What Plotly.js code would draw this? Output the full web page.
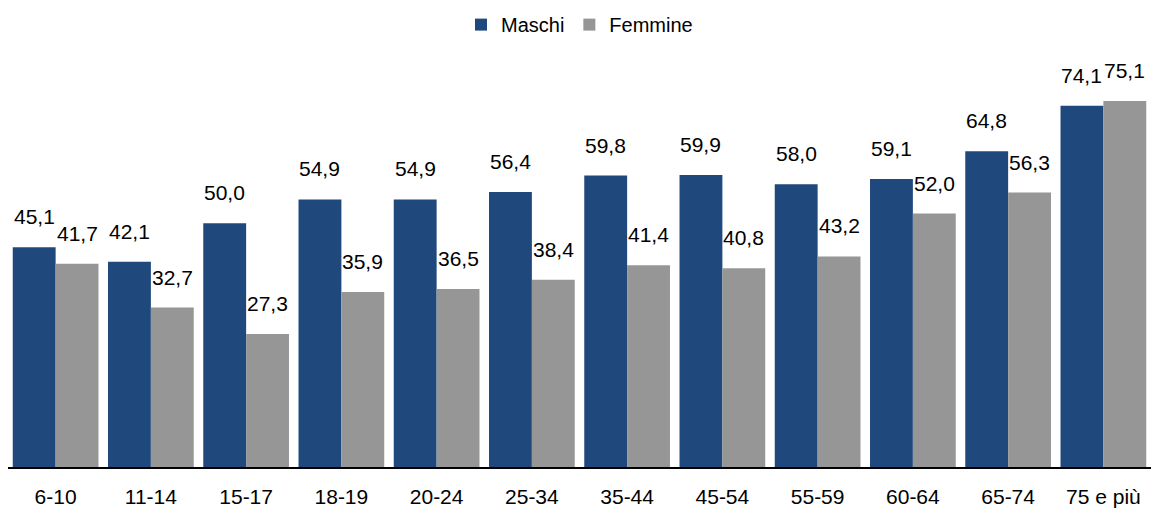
<!DOCTYPE html>
<html><head><meta charset="utf-8">
<script src="https://cdn.plot.ly/plotly-3.0.1.min.js"></script>
<style>body{margin:0;background:#fff}#chart{width:1154px;height:511px}</style>
</head><body><div id="chart"></div>
<script>
const categories = ["6-10","11-14","15-17","18-19","20-24","25-34","35-44","45-54","55-59","60-64","65-74","75 e più"];
const maschi = [45.1,42.1,50.0,54.9,54.9,56.4,59.8,59.9,58.0,59.1,64.8,74.1];
const femmine = [41.7,32.7,27.3,35.9,36.5,38.4,41.4,40.8,43.2,52.0,56.3,75.1];
const fmt = v => v.toFixed(1).replace('.', ',');
const fam = '"Liberation Sans", Arial, sans-serif';
const font = {family: fam, size: 21, color: '#000'};
const traces = [
  {type:'bar', name:'Maschi', x:categories, y:maschi, marker:{color:'#1F497D'}, hoverinfo:'none'},
  {type:'bar', name:'Femmine', x:categories, y:femmine, marker:{color:'#969696'}, hoverinfo:'none'}
];
const annotations = [];
[[maschi,-21.5],[femmine,21.5]].forEach(([vals, dx]) => {
  vals.forEach((v, i) => annotations.push({
    x: categories[i], y: v, xref:'x', yref:'y', text: fmt(v), showarrow:false,
    xshift: dx, yshift: 17, yanchor:'bottom', xanchor:'center', font: font
  }));
});
const layout = {
  width:1154, height:511,
  margin:{l:8, r:3, t:60, b:44, autoexpand:false},
  barmode:'group', bargap:0.1, bargroupgap:0,
  paper_bgcolor:'#fff', plot_bgcolor:'#fff',
  font: font,
  showlegend:true,
  legend:{orientation:'h', x:0.5, xanchor:'center', yref:'container', y:0.99, yanchor:'top', font:{family:fam, size:20, color:'#000'}, traceorder:'normal'},
  annotations: annotations,
  xaxis:{showline:true, linecolor:'#000', linewidth:1.5, ticks:'outside', ticklen:10, tickcolor:'rgba(0,0,0,0)', tickfont:font, showgrid:false, zeroline:false, fixedrange:true, automargin:false},
  yaxis:{range:[0,83.5], visible:false, showgrid:false, zeroline:false, fixedrange:true}
};
Plotly.newPlot('chart', traces, layout, {displayModeBar:false, staticPlot:true});
</script></body></html>
